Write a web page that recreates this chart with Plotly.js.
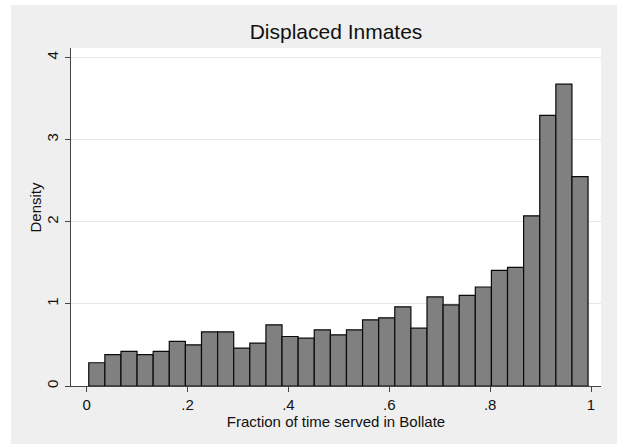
<!DOCTYPE html>
<html>
<head>
<meta charset="utf-8">
<script src="https://cdn.plot.ly/plotly-3.0.1.min.js"></script>
<style>
  html, body { margin: 0; padding: 0; background: #ffffff; }
  #chart { position: absolute; left: 11px; top: 5px; width: 606px; height: 439px; }
</style>
</head>
<body>
<div id="chart"></div>
<script>
// Histogram data (density per bin)
const binStart = 0.004;
const binWidth = 0.03194;
const densities = [0.283, 0.381, 0.421, 0.381, 0.421, 0.543, 0.502, 0.660, 0.660, 0.462,
                   0.522, 0.745, 0.603, 0.583, 0.684, 0.623, 0.684, 0.806, 0.830, 0.964,
                   0.704, 1.085, 0.988, 1.105, 1.206, 1.409, 1.445, 2.073, 3.296, 3.676, 2.551];
const xTickVals = [0, 0.2, 0.4, 0.6, 0.8, 1];
const xTickText = ['0', '.2', '.4', '.6', '.8', '1'];
const yTickVals = [0, 1, 2, 3, 4];
const yTickText = ['0', '1', '2', '3', '4'];
const titleText = 'Displaced Inmates';
const xTitle = 'Fraction of time served in Bollate';
const yTitle = 'Density';

const centers = densities.map((_, i) => binStart + binWidth * (i + 0.5));
const FONT = 'Liberation Sans, Arial, Helvetica, sans-serif';
const INK = '#111111';

const trace = {
  type: 'bar',
  x: centers,
  y: densities,
  width: binWidth,
  marker: { color: '#808080', line: { color: '#0a0a0a', width: 1.2 } },
  hoverinfo: 'skip'
};

const H = 439;
const layout = {
  width: 606, height: H,
  margin: { l: 60, r: 16.3, t: 42.7, b: 58.3, pad: 0 },
  paper_bgcolor: '#efefef',
  plot_bgcolor: '#ffffff',
  showlegend: false,
  bargap: 0,
  font: { family: FONT, color: INK, size: 15 },
  title: { text: titleText, font: { family: FONT, size: 21, color: INK },
           x: 0.5, xref: 'paper', xanchor: 'center',
           y: 1 - 27 / H, yref: 'container', yanchor: 'middle' },
  xaxis: {
    range: [-0.0312, 1.0198],
    tickvals: xTickVals, ticktext: xTickText,
    ticks: 'outside', ticklen: 5, tickwidth: 1, tickcolor: '#444444',
    showline: true, linecolor: '#444444', linewidth: 1,
    showgrid: false, zeroline: false,
    tickfont: { family: FONT, size: 15, color: INK },
    title: { text: xTitle, font: { family: FONT, size: 15, color: INK }, standoff: 3 }
  },
  yaxis: {
    range: [0, 4.117],
    tickvals: yTickVals, ticktext: yTickText,
    ticks: 'outside', ticklen: 5, tickwidth: 1, tickcolor: '#444444',
    tickangle: -90,
    ticklabelstandoff: 1,
    showline: true, linecolor: '#444444', linewidth: 1,
    showgrid: true, gridcolor: '#e6e6e6', gridwidth: 1,
    zeroline: false,
    tickfont: { family: FONT, size: 15, color: INK }
  },
  annotations: [{
    text: yTitle, textangle: -90, showarrow: false,
    font: { family: FONT, size: 15, color: INK },
    xref: 'paper', yref: 'paper',
    x: (35.5 - 11 - 60) / (606 - 60 - 16.3), xanchor: 'center',
    y: (380.7 - (206.7 - 5)) / (439 - 42.7 - 58.3), yanchor: 'middle'
  }]
};

Plotly.newPlot('chart', [trace], layout, { staticPlot: true, displayModeBar: false });
</script>
</body>
</html>
